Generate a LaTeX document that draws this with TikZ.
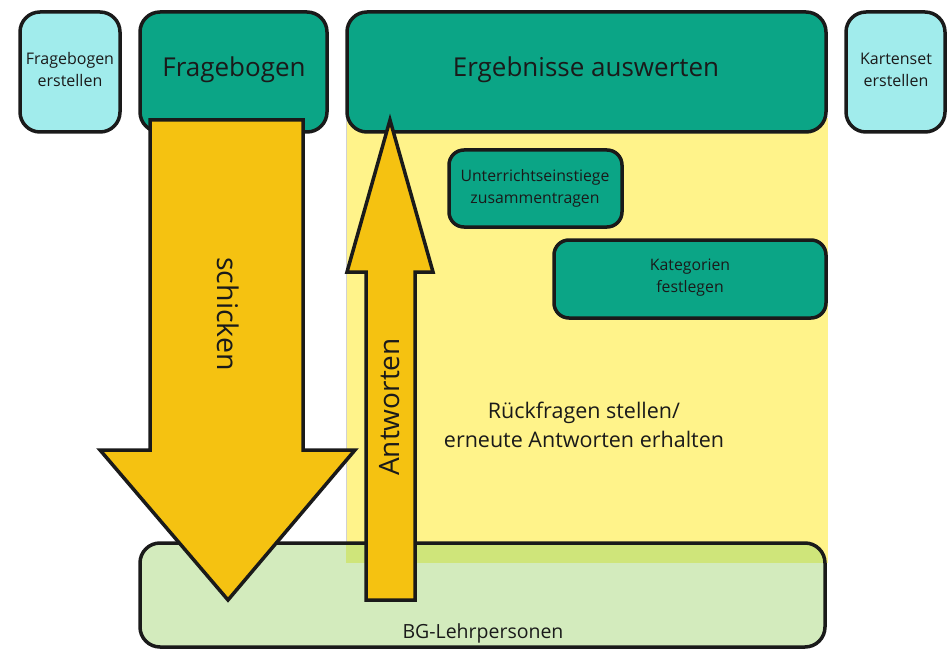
\documentclass[tikz,border=0pt]{standalone}
\usepackage{fontspec}
\setmainfont{Open Sans}
\definecolor{teal1}{HTML}{0BA586}
\definecolor{cyan1}{HTML}{A1ECEC}
\definecolor{arrowy}{HTML}{F5C211}
\definecolor{notey}{HTML}{FFF38A}
\definecolor{green1}{HTML}{D3EBBD}
\definecolor{overlap}{HTML}{CFE57A}
\definecolor{ink}{HTML}{1A1A1A}
\tikzset{
  box/.style={draw=ink, line width=3.5pt, rounded corners=20pt},
  tealbox/.style={box, fill=teal1},
  cyanbox/.style={box, fill=cyan1},
  bigarrow/.style={draw=ink, line width=3.5pt, fill=arrowy, line join=miter},
  lbl/.style={text=ink, align=center, inner sep=0pt},
}
\begin{document}
\begin{tikzpicture}[x=1pt,y=-1pt]
\useasboundingbox (0,0) rectangle (951,650);
% yellow note
\fill[notey] (346,118) rectangle (828,563);
\draw[ink!20, line width=0.6pt] (346,118) -- (346,563);
% green base box
\fill[green1, rounded corners=20pt] (140,543) rectangle (825,647);
\begin{scope}
  \clip[rounded corners=20pt] (140,543) rectangle (825,647);
  \fill[overlap] (346,543) rectangle (828,563);
\end{scope}
\draw[box] (140,543) rectangle (825,647);
% top boxes
\draw[cyanbox] (20,12) rectangle (120,132);
\draw[tealbox] (140,12) rectangle (327,132);
\draw[tealbox] (347,12) rectangle (826,132);
\draw[cyanbox] (846,12) rectangle (945,132);
% inner boxes
\draw[tealbox, rounded corners=15pt] (449,150) rectangle (622,227);
\draw[tealbox, rounded corners=15pt] (554,240) rectangle (826,318);
% labels
\node[lbl, font=\fontsize{16}{22}\selectfont] (fe) at (70,70) {Fragebogen\\erstellen};
\node[lbl, font=\fontsize{26}{30}\selectfont] (fb) at (234,70) {Fragebogen};
\node[lbl, font=\fontsize{26}{30}\selectfont] (ea) at (586,70) {Ergebnisse auswerten};
\node[lbl, font=\fontsize{16}{22}\selectfont] (ke) at (896,70) {Kartenset\\erstellen};
\node[lbl, font=\fontsize{15.8}{22}\selectfont] (ue) at (535,188) {Unterrichtseinstiege\\zusammentragen};
\node[lbl, font=\fontsize{15.8}{22}\selectfont] (kf) at (690,278) {Kategorien\\festlegen};
\node[lbl, font=\fontsize{21.5}{29}\selectfont] (rf) at (584,425) {Rückfragen stellen/\\erneute Antworten erhalten};
\node[lbl, font=\fontsize{19.5}{22}\selectfont] (bg) at (483,633) {BG-Lehrpersonen};
% down arrow
\draw[bigarrow] (150,120) -- (303,120) -- (303,450) -- (355,450) -- (228,600)
  -- (100,450) -- (150,450) -- cycle;
\node[lbl, font=\fontsize{28.5}{32}\selectfont, rotate=-90] (sc) at (228,314) {schicken};
% up arrow
\draw[bigarrow] (366,600) -- (415,600) -- (415,272) -- (433,272) -- (390,120)
  -- (347,272) -- (366,272) -- cycle;
\node[lbl, font=\fontsize{28}{32}\selectfont, rotate=90] (an) at (390,407) {Antworten};
\end{tikzpicture}
\end{document}
